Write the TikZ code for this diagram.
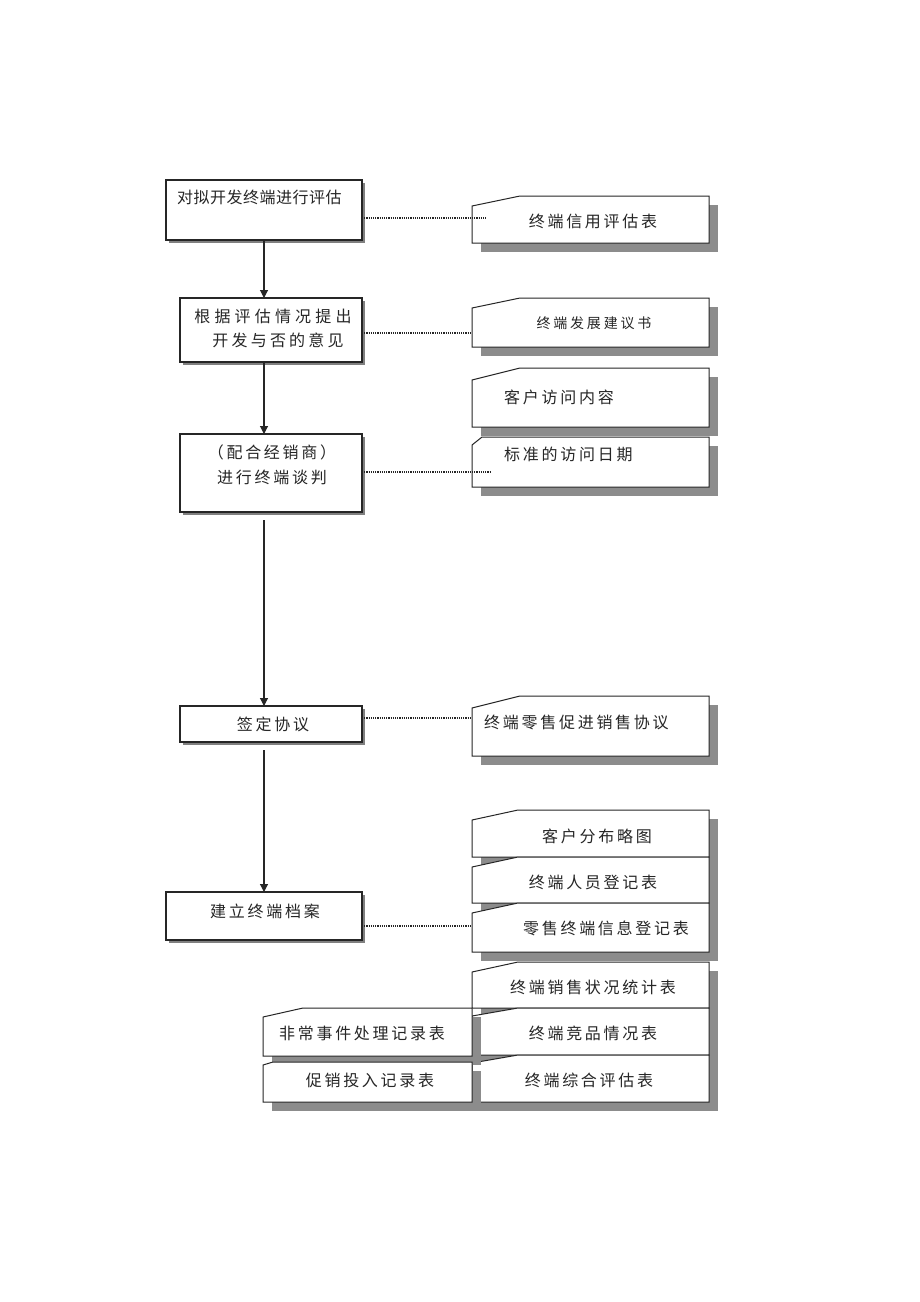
\documentclass[tikz,border=0pt]{standalone}
\usepackage{fontspec}
\usetikzlibrary{arrows.meta,shadows}
\newfontfamily\cjkN[LetterSpace=3]{Noto Sans CJK SC}
\newfontfamily\cjkA[LetterSpace=17]{Noto Sans CJK SC}
\newfontfamily\cjkB[LetterSpace=26]{Noto Sans CJK SC}
\newfontfamily\cjkC[LetterSpace=20]{Noto Sans CJK SC}
\newcommand{\docshape}[6]{%
  \fill[shd] (#1+9,#2+9) rectangle (#3+9,#4+9);
  \filldraw[doc] (#1,#4) -- (#1,#2+#6) -- (#1+#5,#2) -- (#3,#2) -- (#3,#4) -- cycle;
}
\tikzset{
  shd/.style={fill=black!45, draw=none},
  doc/.style={fill=white, draw=black!85, line width=1pt},
  lbox/.style={draw=black!85, line width=1.3pt, fill=white, inner sep=0pt, outer sep=0pt,
    drop shadow={opacity=1, fill=black!50, shadow xshift=3pt, shadow yshift=-3pt}},
  arr/.style={draw=black!85, line width=1.1pt, -{Triangle[length=8pt,width=8pt]}},
  dotl/.style={draw=black!85, line width=1.1pt, dash pattern=on 1.2pt off 1pt},
  lbl/.style={inner sep=0pt, text=black!85, font=\cjkA\fontsize{16}{19}\selectfont},
  lblf/.style={lbl, font=#1\fontsize{16}{19}\selectfont},
}
\begin{document}
\begin{tikzpicture}[x=1pt,y=-1pt]
\useasboundingbox (0,0) rectangle (920,1302);
\fill[white] (0,0) rectangle (920,1302);

% left process boxes
\node[lbox, minimum width=196pt, minimum height=60pt] (b1) at (264,210) {};
\node[lbox, minimum width=182pt, minimum height=64pt] (b2) at (271,330) {};
\node[lbox, minimum width=182pt, minimum height=78pt] (b3) at (271,473) {};
\node[lbox, minimum width=182pt, minimum height=36pt] (b4) at (271,724) {};
\node[lbox, minimum width=196pt, minimum height=48pt] (b5) at (264,916) {};

\node[lblf=\cjkN, anchor=west] (t1) at (177,197) {对拟开发终端进行评估};
\node[lblf=\cjkB] (t2a) at (273,316) {根据评估情况提出};
\node[lblf=\cjkC] (t2b) at (278,340) {开发与否的意见};
\node[lbl] (t3a) at (272,452) {（配合经销商）};
\node[lbl] (t3b) at (272,477) {进行终端谈判};
\node[lbl] (t4) at (273,724) {签定协议};
\node[lbl] (t5) at (265,911) {建立终端档案};

% arrows
\draw[arr] (b1.south) -- (b1.south |- b2.north);
\draw[arr] (b2.south -| b1.south) -- (b1.south |- b3.north);
\draw[arr] ([yshift=-8pt]b3.south -| b1.south) -- (b1.south |- b4.north);
\draw[arr] ([yshift=-8pt]b4.south -| b1.south) -- (b1.south |- b5.north);

% document shapes
\docshape{472}{196}{709}{243}{48}{10}
\docshape{472}{298}{709}{347}{48}{10}
\docshape{472}{368}{709}{427}{48}{12}
\docshape{472}{437}{709}{487}{10}{8}
\docshape{472}{696}{709}{756}{48}{12}
\docshape{472}{810}{709}{857}{46}{10}
\docshape{472}{857}{709}{903}{46}{10}
\docshape{472}{903}{709}{952}{46}{10}
\docshape{472}{962}{709}{1008}{46}{10}
\docshape{472}{1008}{709}{1055}{46}{8}
\docshape{472}{1055}{709}{1102}{46}{8}
\docshape{263}{1008}{472}{1056}{40}{9}
\docshape{263}{1062}{472}{1102}{10}{3}

\node[lbl] (d1) at (593,221) {终端信用评估表};
\node[lbl, font=\cjkC\fontsize{14}{17}\selectfont] (d2) at (594,323) {终端发展建议书};
\node[lbl, anchor=west] (d3a) at (504,397) {客户访问内容};
\node[lbl, anchor=west] (d3b) at (504,454) {标准的访问日期};
\node[lbl, anchor=west] (d4) at (484,722) {终端零售促进销售协议};
\node[lbl] (s1) at (597,836) {客户分布略图};
\node[lbl] (s2) at (593,882) {终端人员登记表};
\node[lbl] (s3) at (606,928) {零售终端信息登记表};
\node[lbl] (s4) at (593,987) {终端销售状况统计表};
\node[lbl] (s5) at (593,1033) {终端竞品情况表};
\node[lbl] (s6) at (589,1080) {终端综合评估表};
\node[lbl] (l1) at (362,1033) {非常事件处理记录表};
\node[lbl] (l2) at (370,1080) {促销投入记录表};

% dotted connectors
\coordinate (e1) at (487,218);
\coordinate (e2) at (472,333);
\coordinate (e3) at (490,472);
\coordinate (e4) at (472,718);
\coordinate (e5) at (472,926);
\draw[dotl] (b1.east |- e1) -- (e1);
\draw[dotl] (b2.east |- e2) -- (e2);
\draw[dotl] (b3.east |- e3) -- (e3);
\draw[dotl] (b4.east |- e4) -- (e4);
\draw[dotl] (b5.east |- e5) -- (e5);
\end{tikzpicture}
\end{document}
